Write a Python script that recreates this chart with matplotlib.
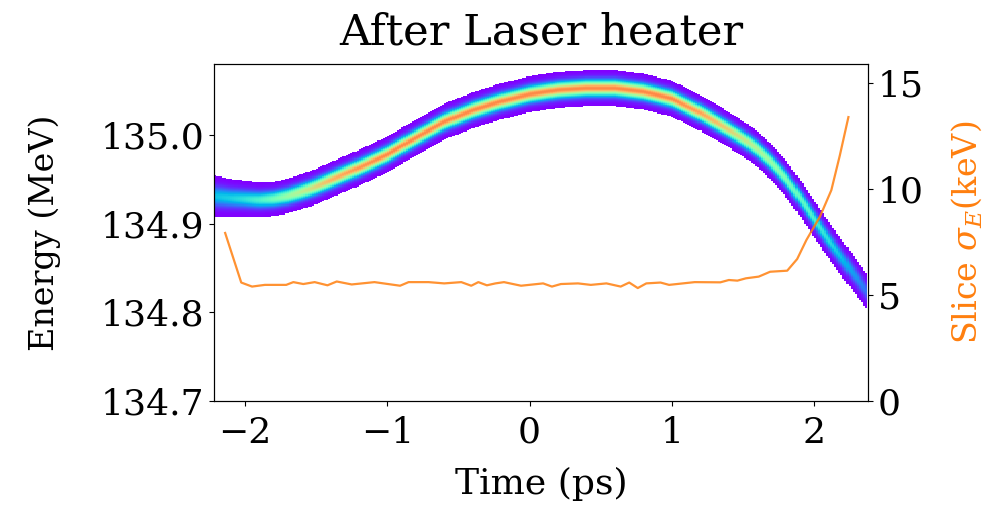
import matplotlib.pyplot as plt
import numpy as np

plt.rcParams['font.family'] = 'serif'
plt.rcParams['font.serif'] = ['DejaVu Serif']
plt.rcParams['mathtext.fontset'] = 'dejavuserif'
plt.rcParams['font.size'] = 26

# Centro del paquete en energía a lo largo del tiempo (ps, MeV)
t_centro = [-2.22, -2.1, -2.0, -1.9, -1.8, -1.7, -1.6, -1.5, -1.4, -1.2, -1.0, -0.8,
            -0.6, -0.4, -0.2, 0.0, 0.2, 0.4, 0.6, 0.8, 1.0, 1.2, 1.4, 1.5,
            1.6, 1.7, 1.8, 1.9, 2.0, 2.1, 2.2, 2.37]
e_centro = [134.931, 134.929, 134.928, 134.927, 134.928, 134.931, 134.936, 134.942,
            134.949, 134.963, 134.978, 134.997, 135.015, 135.028, 135.038, 135.046,
            135.051, 135.053, 135.053, 135.049, 135.041, 135.025, 135.006, 134.996,
            134.984, 134.969, 134.951, 134.929, 134.905, 134.882, 134.860, 134.823]
# Anchura (keV) y densidad relativa del núcleo del histograma
ancho_kev = [7.6, 6.8, 6.4, 6.1, 5.9, 5.9, 5.9, 5.9, 5.9, 5.9, 5.9, 5.9,
             5.9, 5.9, 5.9, 5.9, 5.9, 5.9, 5.9, 5.9, 5.9, 5.9, 5.9, 5.9,
             6.0, 6.1, 6.2, 6.3, 6.4, 6.5, 6.6, 6.7]
densidad = [0.28, 0.31, 0.35, 0.41, 0.48, 0.55, 0.62, 0.69, 0.75, 0.80, 0.82, 0.82,
            0.82, 0.82, 0.82, 0.82, 0.82, 0.82, 0.82, 0.82, 0.82, 0.78, 0.70, 0.65,
            0.60, 0.55, 0.50, 0.45, 0.40, 0.34, 0.27, 0.15]

# Dispersión de energía por rodaja (ps, keV)
t_slice = [-2.139, -2.026, -1.95, -1.86, -1.71, -1.66, -1.59, -1.51, -1.42, -1.355,
           -1.25, -1.09, -0.91, -0.85, -0.77, -0.71, -0.60, -0.48, -0.41, -0.36,
           -0.30, -0.24, -0.18, -0.06, 0.095, 0.157, 0.22, 0.34, 0.43, 0.54,
           0.64, 0.70, 0.76, 0.82, 0.92, 0.98, 1.16, 1.34, 1.40, 1.46,
           1.52, 1.61, 1.69, 1.81, 1.88, 1.945, 2.04, 2.12, 2.18, 2.24]
sigma_slice = [7.93, 5.59, 5.40, 5.48, 5.48, 5.61, 5.52, 5.61, 5.46, 5.64,
               5.50, 5.61, 5.44, 5.61, 5.61, 5.61, 5.55, 5.61, 5.44, 5.61,
               5.46, 5.55, 5.61, 5.44, 5.55, 5.40, 5.52, 5.55, 5.48, 5.55,
               5.40, 5.59, 5.33, 5.55, 5.59, 5.48, 5.61, 5.60, 5.71, 5.68,
               5.79, 5.87, 6.10, 6.15, 6.70, 7.60, 8.70, 9.95, 11.6, 13.4]

# Malla del histograma tiempo-energía
t_bordes = np.linspace(-2.22, 2.37, 321)
e_bordes = np.linspace(134.70, 135.08, 301)
tc = 0.5 * (t_bordes[1:] + t_bordes[:-1])
ec = 0.5 * (e_bordes[1:] + e_bordes[:-1])
e0 = np.interp(tc, t_centro, e_centro)
sig = np.interp(tc, t_centro, ancho_kev) * 1e-3
pico = np.interp(tc, t_centro, densidad)
T, E = np.meshgrid(tc, ec)
Z = pico[None, :] * np.exp(-(E - e0[None, :])**2 / (2 * sig[None, :]**2))
umbral = 0.0022
Z = np.ma.masked_less(Z, umbral)

fig = plt.figure(figsize=(9.95, 5.05), dpi=100)
ax = fig.add_axes([0.2147, 0.206, 0.658, 0.667])
ax.pcolormesh(t_bordes, e_bordes, Z, cmap='rainbow', vmin=umbral, vmax=1.0,
              shading='flat', rasterized=True)
ax.set_xlim(-2.22, 2.38)
ax.set_ylim(134.7, 135.08)
ax.set_yticks([134.7, 134.8, 134.9, 135.0])
ax.set_xticks([-2, -1, 0, 1, 2])
ax.tick_params(axis='x', pad=7)
ax.set_xlabel('Time (ps)')
ax.xaxis.set_label_coords(0.5, -0.195)
ax.set_ylabel('Energy (MeV)', fontsize=24)
ax.yaxis.set_label_coords(-0.233, 0.5)
ax.set_title('After Laser heater', pad=14)

ax2 = ax.twinx()
ax2.plot(t_slice, sigma_slice, color='#ff7f0e', lw=1.6, alpha=0.85)
ax2.set_ylim(0, 15.9)
ax2.set_yticks([0, 5, 10, 15])
ax2.set_ylabel(r'Slice $\sigma_E$(keV)', color='#ff7f0e', fontsize=24)
ax2.yaxis.set_label_coords(1.124, 0.5)

fig.savefig('out.png', dpi=100)
